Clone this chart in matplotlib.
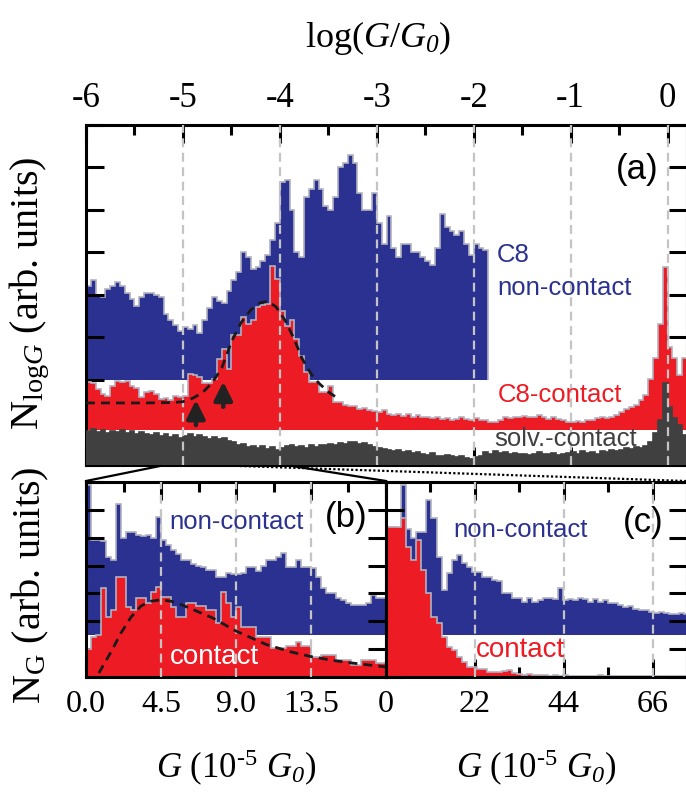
import numpy as np
import matplotlib
matplotlib.use('Agg')
import matplotlib.pyplot as plt
from matplotlib.ticker import MultipleLocator, FormatStrFormatter
from matplotlib.lines import Line2D

plt.rcParams.update({
    'font.family': ['Liberation Serif', 'DejaVu Serif'],
    'mathtext.fontset': 'custom',
    'mathtext.rm': 'Liberation Serif',
    'mathtext.it': 'Liberation Serif:italic',
    'mathtext.bf': 'Liberation Serif:bold',
    # italic digits for subscripts (mathit keeps digits upright)
    'mathtext.sf': 'Liberation Serif:italic',
    'axes.unicode_minus': False,
})

BLUE = '#2b3190'
RED = '#ed1c24'
GRAY = '#404040'
EDGE = '#b2b2c0'
SANS = 'Liberation Sans'

# ---- (a) log-binned histograms, bin width 0.05 decade starting at log(G/G0) = -6
LOG_BIN = 0.05
LOG_START = -6.0

noncontact_log = [
    2.2, 2.36, 2.0, 1.95, 2.13, 2.2, 2.3, 2.2, 2.05, 1.9,
    1.75, 1.96, 2.05, 2.05, 2.0, 1.95, 1.55, 1.4, 1.3, 1.15,
    1.25, 1.2, 1.3, 1.1, 1.4, 1.7, 1.95, 1.85, 1.8, 2.1,
    2.35, 2.55, 3.0, 2.9, 2.6, 2.65, 2.8, 2.95, 3.3, 3.7,
    4.65, 4.7, 4.0, 3.0, 2.9, 4.3, 4.5, 4.7, 4.5, 4.1,
    4.0, 4.3, 5.0, 5.1, 5.3, 5.1, 4.4, 4.0, 4.0, 4.4,
    3.7, 3.2, 3.85, 3.1, 2.9, 3.2, 3.2, 3.0, 3.0, 2.9,
    2.8, 2.7, 3.1, 3.9, 3.6, 3.5, 3.4, 3.5, 3.2, 2.95,
    3.2, 3.1, 3.05,
]

c8_contact_log = [
    1.13, 1.10, 0.97, 0.85, 0.80, 1.05, 1.16, 1.13, 1.15, 1.04,
    1.00, 0.78, 0.90, 0.92, 0.85, 0.73, 0.75, 0.72, 0.80, 0.78,
    0.80, 1.32, 1.30, 1.25, 1.10, 1.10, 1.20, 1.68, 1.90, 1.44,
    2.24, 2.24, 2.67, 2.50, 2.60, 2.90, 2.95, 2.97, 3.87, 3.56,
    2.80, 2.45, 2.60, 2.15, 1.75, 1.37, 1.13, 1.13, 0.90, 0.90,
    1.04, 0.66, 0.66, 0.60, 0.57, 0.57, 0.50, 0.52, 0.48, 0.45,
    0.42, 0.48, 0.38, 0.35, 0.37, 0.34, 0.38, 0.32, 0.35, 0.30,
    0.32, 0.28, 0.30, 0.26, 0.28, 0.25, 0.27, 0.30, 0.26, 0.24,
    0.28, 0.25, 0.24, 0.19, 0.20, 0.25, 0.30, 0.28, 0.32, 0.30,
    0.34, 0.30, 0.32, 0.35, 0.30, 0.27, 0.32, 0.26, 0.23, 0.20,
    0.20, 0.22, 0.19, 0.23, 0.25, 0.28, 0.30, 0.28, 0.32, 0.35,
    0.42, 0.50, 0.55, 0.60, 0.70, 0.83, 1.20, 1.70, 2.50, 3.85,
    1.95, 1.70, 1.30, 1.70,
]

solv_contact_log = [
    0.80, 0.85, 0.78, 0.82, 0.75, 0.80, 0.78, 0.83, 0.76, 0.80,
    0.74, 0.78, 0.72, 0.70, 0.75, 0.68, 0.72, 0.66, 0.70, 0.64,
    0.68, 0.72, 0.66, 0.70, 0.65, 0.62, 0.66, 0.60, 0.63, 0.56,
    0.55, 0.48, 0.50, 0.42, 0.45, 0.40, 0.44, 0.38, 0.42, 0.36,
    0.40, 0.45, 0.46, 0.42, 0.44, 0.40, 0.46, 0.43, 0.48, 0.46,
    0.50, 0.47, 0.52, 0.50, 0.55, 0.53, 0.50, 0.52, 0.46, 0.42,
    0.40, 0.38, 0.36, 0.33, 0.36, 0.30, 0.32, 0.28, 0.30, 0.26,
    0.24, 0.28, 0.22, 0.20, 0.24, 0.20, 0.18, 0.22, 0.17, 0.15,
    0.18, 0.20, 0.30, 0.26, 0.32, 0.28, 0.30, 0.26, 0.28, 0.25,
    0.27, 0.24, 0.26, 0.30, 0.27, 0.25, 0.28, 0.24, 0.26, 0.28,
    0.30, 0.26, 0.32, 0.28, 0.30, 0.27, 0.32, 0.30, 0.35, 0.33,
    0.36, 0.40, 0.38, 0.42, 0.40, 0.45, 0.55, 0.75, 1.06, 1.93,
    1.37, 1.10, 0.95, 0.70,
]

# Gaussian fit through the C8-contact peak (log G, N)
fit_log_x = [-6.0, -5.4, -5.1, -5.0, -4.9, -4.8, -4.7, -4.6, -4.5, -4.4, -4.3,
             -4.2, -4.12, -4.04, -3.94, -3.85, -3.77, -3.68, -3.6, -3.5, -3.41]
fit_log_y = [1.46, 1.46, 1.47, 1.49, 1.57, 1.70, 1.93, 2.28, 2.90, 3.35, 3.65,
             3.82, 3.85, 3.72, 3.38, 2.95, 2.50, 2.15, 1.93, 1.72, 1.58]

# secondary peaks marked with arrows: (log G, arrow tail, arrow tip)
peak_marks = [(-4.866, 0.94, 1.53), (-4.584, 1.37, 1.96)]

# ---- (b) linear histogram, 0.3e-5 G0 bins
LIN_BIN_B = 0.3
noncontact_b = [
    5.4, 3.43, 3.43, 3.4, 2.8, 2.7, 4.7, 3.5, 3.7, 3.7,
    3.6, 3.55, 3.6, 3.5, 4.25, 3.43, 3.25, 3.07, 2.9, 2.7,
    2.7, 2.55, 2.5, 2.45, 2.35, 2.35, 2.1, 2.1, 2.25, 2.2,
    2.2, 2.25, 2.46, 2.46, 2.3, 2.5, 2.7, 2.7, 2.8, 2.95,
    2.46, 2.46, 2.7, 2.45, 2.46, 2.4, 2.1, 1.7, 1.5, 1.5,
    1.35, 1.27, 1.15, 1.1, 1.1, 1.1, 1.15, 1.45, 1.35, 1.35,
]
contact_b = [
    1.0, 1.45, 1.5, 3.2, 2.16, 2.4, 3.6, 3.6, 2.5, 2.4,
    2.85, 2.85, 2.65, 3.06, 3.24, 2.88, 2.88, 2.5, 2.16, 2.16,
    2.65, 2.65, 2.55, 2.55, 2.4, 2.4, 1.94, 3.06, 2.65, 2.16,
    2.5, 1.8, 1.8, 1.8, 1.44, 1.44, 1.44, 1.04, 1.04, 1.04,
    1.1, 1.1, 1.26, 1.1, 1.1, 0.72, 0.72, 0.78, 0.78, 0.78,
    0.61, 0.61, 0.61, 0.43, 0.43, 0.6, 0.6, 0.6, 0.5, 0.5,
]
fit_b_x = [0.77, 1.5, 2.1, 2.7, 3.3, 3.9, 4.5, 5.1, 5.7, 6.5, 7.6, 9.0,
           10.8, 12.3, 13.6, 15.0, 16.0, 18.0]
fit_b_y = [0.14, 0.9, 1.58, 2.15, 2.55, 2.72, 2.77, 2.72, 2.6, 2.4, 2.12, 1.65,
           1.17, 0.9, 0.72, 0.58, 0.5, 0.36]

# ---- (c) linear histogram, 1.25e-5 G0 bins
LIN_BIN_C = 1.25
noncontact_c = [
    3.9, 3.9, 3.1, 5.4, 3.8, 3.5, 3.7, 3.7, 4.87, 4.2,
    2.8, 1.63, 2.24, 2.7, 2.89, 2.6, 2.46, 2.28, 2.28, 2.1,
    2.1, 2.0, 1.95, 1.5, 1.5, 1.35, 1.35, 1.2, 1.35, 1.2,
    1.25, 1.35, 1.35, 1.3, 1.7, 1.25, 1.3, 1.25, 1.35, 1.3,
    1.2, 1.3, 1.2, 1.25, 1.16, 1.16, 1.1, 1.0, 1.05, 0.95,
    0.9, 0.9, 0.85, 0.8, 0.85, 0.8, 0.77, 0.77, 0.8, 0.77,
]
contact_c = [
    5.4, 5.4, 5.4, 5.7, 4.68, 4.2, 4.93, 3.85, 3.0, 2.16,
    1.94, 1.44, 1.08, 0.97, 0.72, 0.54, 0.36, 0.36, 0.3, 0.3,
    0.18, 0.18, 0.18, 0.2, 0.25, 0.15, 0.1, 0.08, 0.1, 0.06,
    0.08, 0.06, 0.05, 0.07, 0.05, 0.06, 0.04, 0.05, 0.04, 0.05,
    0.04, 0.05, 0.06, 0.04, 0.05, 0.04, 0.03, 0.04, 0.05, 0.03,
    0.04, 0.03, 0.04, 0.03, 0.03, 0.04, 0.03, 0.03, 0.04, 0.03,
]

# vertical offsets of the stacked histograms
OFF_NONCONTACT_A = 2.0
OFF_C8_A = 0.82
OFF_NONCONTACT_LIN = 1.5


def edges(n, width, start=0.0):
    return start + width * np.arange(n + 1)


def hist(ax, counts, bin_edges, offset, color, edge=EDGE, z=1):
    counts = np.asarray(counts)
    ax.stairs(counts + offset, bin_edges, baseline=offset, fill=True,
              facecolor=color, edgecolor=edge, linewidth=1.2, zorder=z)


def style_axes(ax, ylim, labelsize=23):
    ax.set_ylim(*ylim)
    ax.yaxis.set_major_locator(MultipleLocator(1))
    ax.tick_params(which='both', direction='in', top=True, bottom=True,
                   left=True, right=True, width=2.2, colors='black',
                   labelsize=labelsize)
    ax.tick_params(which='major', length=13)
    ax.tick_params(which='minor', length=7)
    ax.tick_params(axis='y', labelleft=False)
    for s in ax.spines.values():
        s.set_linewidth(2.2)


def vgrid(ax, xs):
    for x in xs:
        ax.axvline(x, color='#c4c4c4', lw=1.6, ls=(0, (4, 2.5)), zorder=4)


W, H = 686, 796
fig = plt.figure(figsize=(W / 100, H / 100), dpi=100)


def px_axes(x0, y0, x1, y1):
    return fig.add_axes([x0 / W, 1 - y1 / H, (x1 - x0) / W, (y1 - y0) / H])


ax_a = px_axes(86, 125, 687, 465)
ax_b = px_axes(86, 482, 386, 677)
ax_c = px_axes(386, 482, 687, 677)

# ---- panel (a)
hist(ax_a, noncontact_log, edges(len(noncontact_log), LOG_BIN, LOG_START),
     OFF_NONCONTACT_A, BLUE, z=1)
hist(ax_a, c8_contact_log, edges(len(c8_contact_log), LOG_BIN, LOG_START),
     OFF_C8_A, RED, z=2)
hist(ax_a, solv_contact_log, edges(len(solv_contact_log), LOG_BIN, LOG_START),
     0.0, GRAY, edge=GRAY, z=3)
ax_a.plot(fit_log_x, fit_log_y, color='#1a1a1a', lw=2.0, ls=(0, (3.2, 2.2)), zorder=6)
for x, tail, tip in peak_marks:
    ax_a.annotate('', xy=(x, tip), xytext=(x, tail),
                  arrowprops=dict(arrowstyle='-|>,head_length=1.1,head_width=0.55',
                                  color='#222222', lw=3.2, shrinkA=0, shrinkB=0),
                  zorder=7)
vgrid(ax_a, [-5, -4, -3, -2, -1, 0])
ax_a.set_xlim(-6, 0.2)
style_axes(ax_a, (0, 8), labelsize=25)
ax_a.xaxis.set_major_locator(MultipleLocator(1))
ax_a.xaxis.set_minor_locator(MultipleLocator(0.5))
ax_a.xaxis.set_major_formatter(FormatStrFormatter('%d'))
ax_a.tick_params(axis='x', labeltop=True, labelbottom=False, pad=7)

ax_a.text(-1.76, 4.95, 'C8', color=BLUE, family=SANS, fontsize=18.5,
          ha='left', va='center', zorder=8)
ax_a.text(-1.76, 4.17, 'non-contact', color=BLUE, family=SANS, fontsize=18.5,
          ha='left', va='center', zorder=8)
ax_a.text(-1.11, 1.65, 'C8-contact', color=RED, family=SANS, fontsize=18.5,
          ha='center', va='center', zorder=8)
ax_a.text(-1.05, 0.6, 'solv.-contact', color=GRAY, family=SANS, fontsize=18.5,
          ha='center', va='center', zorder=8)
ax_a.text(-0.31, 6.96, '(a)', color='black', family=SANS, fontsize=25,
          ha='center', va='center', zorder=8)

# ---- panel (b)
hist(ax_b, noncontact_b, edges(len(noncontact_b), LIN_BIN_B), OFF_NONCONTACT_LIN, BLUE, z=1)
hist(ax_b, contact_b, edges(len(contact_b), LIN_BIN_B), 0.0, RED, z=2)
ax_b.plot(fit_b_x, fit_b_y, color='#1a1a1a', lw=2.0, ls=(0, (3.2, 2.2)), zorder=6)
vgrid(ax_b, [4.5, 9.0, 13.5])
ax_b.set_xlim(0, 18)
style_axes(ax_b, (0, 7))
ax_b.xaxis.set_major_locator(MultipleLocator(4.5))
ax_b.xaxis.set_minor_locator(MultipleLocator(2.25))
ax_b.xaxis.set_major_formatter(FormatStrFormatter('%.1f'))
ax_b.set_xticks([0, 4.5, 9.0, 13.5])
ax_b.tick_params(axis='x', pad=9)
ax_b.text(9.06, 5.56, 'non-contact', color=BLUE, family=SANS, fontsize=18.5,
          ha='center', va='center', zorder=8)
ax_b.text(15.6, 5.74, '(b)', color='black', family=SANS, fontsize=25,
          ha='center', va='center', zorder=8)
ax_b.text(7.68, 0.72, 'contact', color='white', family=SANS, fontsize=20,
          ha='center', va='center', zorder=8)

# ---- panel (c)
hist(ax_c, noncontact_c, edges(len(noncontact_c), LIN_BIN_C), OFF_NONCONTACT_LIN, BLUE, z=1)
hist(ax_c, contact_c, edges(len(contact_c), LIN_BIN_C), 0.0, RED, z=2)
vgrid(ax_c, [22, 44, 66])
ax_c.set_xlim(0, 74.5)
style_axes(ax_c, (0, 7))
ax_c.set_xticks([0, 22, 44, 66])
ax_c.xaxis.set_minor_locator(MultipleLocator(11))
ax_c.tick_params(axis='x', pad=9)
ax_c.text(33.3, 5.28, 'non-contact', color=BLUE, family=SANS, fontsize=18.5,
          ha='center', va='center', zorder=8)
ax_c.text(63.6, 5.56, '(c)', color='black', family=SANS, fontsize=25,
          ha='center', va='center', zorder=8)
ax_c.text(33.3, 0.97, 'contact', color=RED, family=SANS, fontsize=20,
          ha='center', va='center', zorder=8)

# ---- axis titles
fig.text(378 / W, 1 - 38 / H, r'log($G$/$G_{\mathsf{0}}$)', fontsize=26,
         ha='center', va='center')
for cx in (236, 536):
    fig.text(cx / W, 1 - 768 / H, r'$G$ (10$^{\text{-5}}$ $G_{\mathsf{0}}$)', fontsize=25,
             ha='center', va='center')
fig.text(30 / W, 1 - 293 / H, r'N$_{\mathrm{log}\mathit{G}}$ (arb. units)', fontsize=29,
         rotation=90, ha='center', va='center')
fig.text(30 / W, 1 - 585 / H, r'N$_{\mathrm{G}}$ (arb. units)', fontsize=29,
         rotation=90, ha='center', va='center')

# ---- zoom guide lines between the log and linear panels
def guide(x0, y0, x1, y1, ls='-'):
    fig.add_artist(Line2D([x0 / W, x1 / W], [1 - y0 / H, 1 - y1 / H],
                          transform=fig.transFigure, color='black', lw=1.6, ls=ls))


guide(86, 481, 160, 466)
guide(386, 481, 292, 466)
guide(240, 466, 686, 481, ls=(0, (1, 1)))

fig.savefig('out.png', dpi=100)
